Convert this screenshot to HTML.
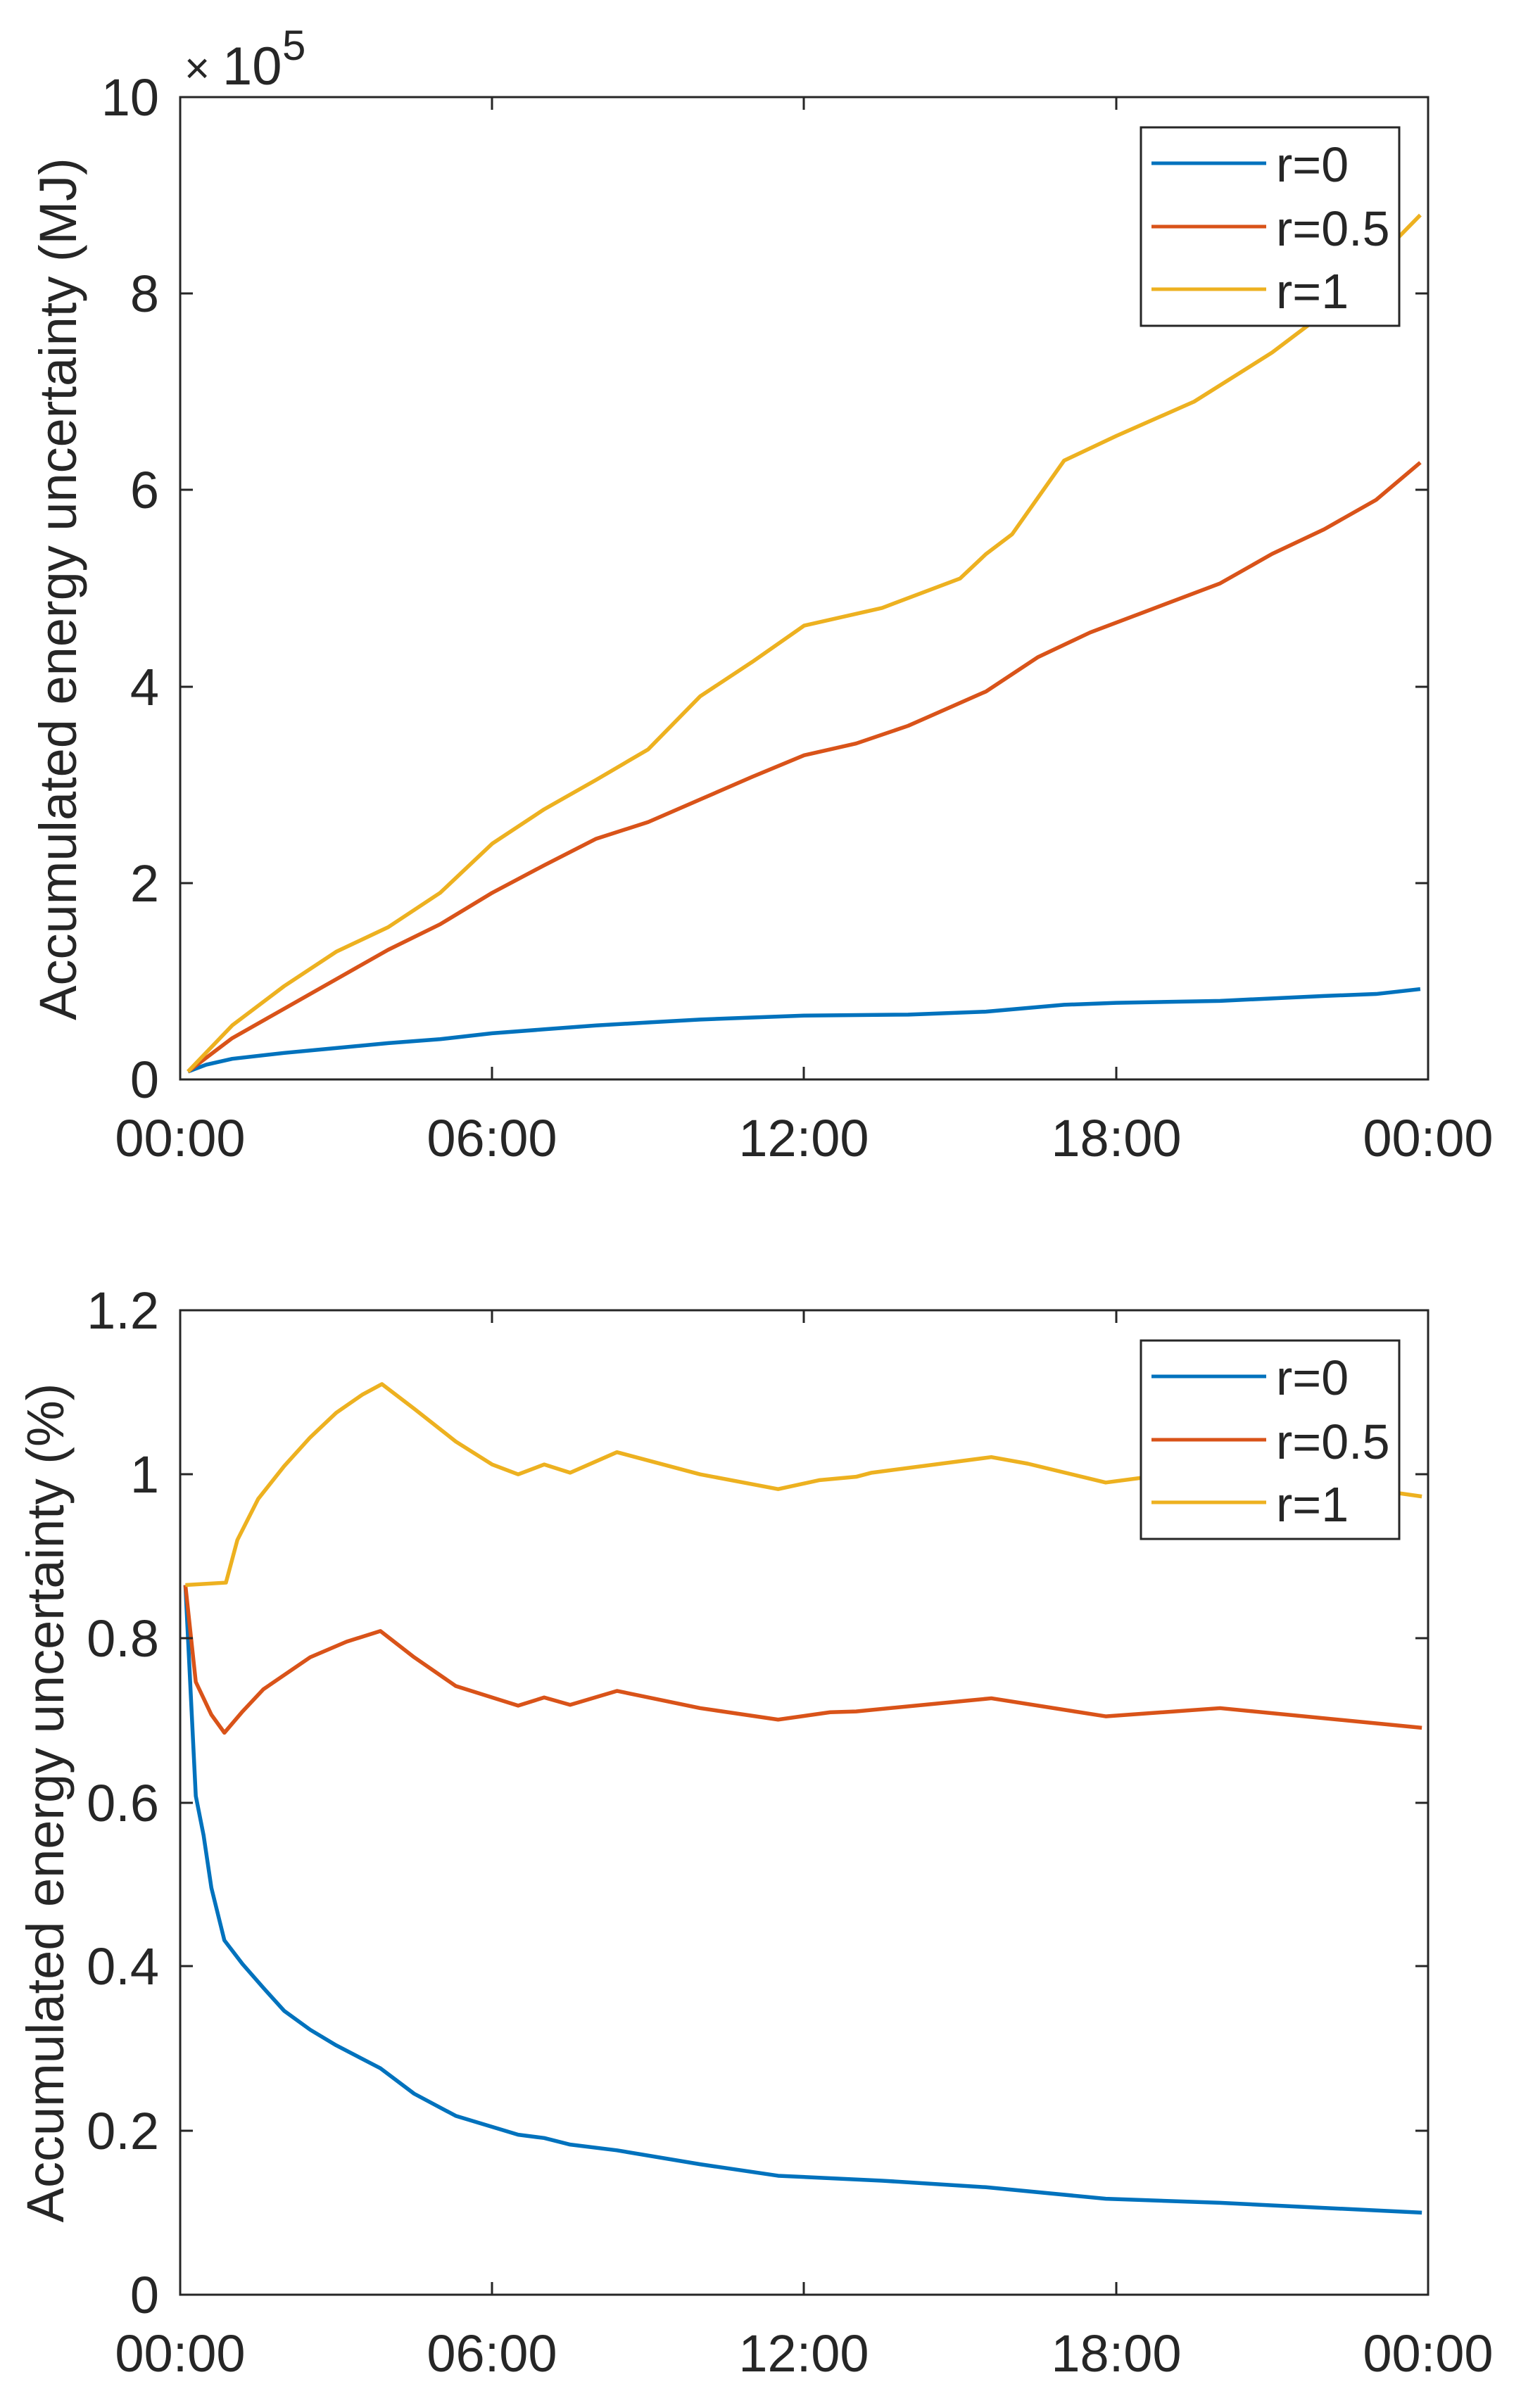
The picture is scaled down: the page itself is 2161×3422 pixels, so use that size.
<!DOCTYPE html>
<html><head><meta charset="utf-8"><style>
html,body{margin:0;padding:0;background:#fff;}
svg{display:block;}
text{font-family:"Liberation Sans",Arial,sans-serif;fill:#262626;}
.d{fill:none;stroke-width:5.5;vector-effect:non-scaling-stroke;stroke-linejoin:round;}
</style></head><body>
<svg width="2161" height="3422" viewBox="0 0 2161 3422" xmlns="http://www.w3.org/2000/svg">
<rect width="2161" height="3422" fill="#fff"/>

<!-- ===== TOP CHART ===== -->
<g transform="translate(256,1534) scale(73.875,-139.6)">
<polyline class="d" stroke="#0072BD" points="0.15,0.08 0.5,0.15 1,0.21 2,0.27 3,0.32 4,0.37 5,0.41 6,0.47 7,0.51 8,0.55 9,0.58 10,0.61 11,0.63 12,0.65 14,0.66 15.5,0.69 17,0.76 18,0.78 20,0.80 22,0.85 23,0.87 23.85,0.92"/>
<polyline class="d" stroke="#D95319" points="0.15,0.08 1,0.42 2,0.72 3,1.02 4,1.32 5,1.58 6,1.9 7,2.18 8,2.45 9,2.62 10,2.85 11,3.08 12,3.3 13,3.42 14,3.6 15.5,3.95 16.5,4.3 17.5,4.55 18.5,4.75 20,5.05 21,5.35 22,5.6 23,5.9 23.85,6.28"/>
<polyline class="d" stroke="#EDB120" points="0.15,0.08 1,0.55 2,0.95 3,1.3 4,1.55 5,1.9 6,2.4 7,2.75 8,3.05 9,3.36 10,3.9 11,4.25 12,4.62 13.5,4.8 15,5.1 15.5,5.35 16,5.55 17,6.3 18,6.55 19.5,6.9 21,7.4 22,7.8 23.85,8.8"/>
</g>
<rect x="256" y="138" width="1773" height="1396" fill="none" stroke="#262626" stroke-width="3"/>
<g stroke="#262626" stroke-width="3">
<line x1="256" y1="1255" x2="274" y2="1255"/><line x1="2029" y1="1255" x2="2011" y2="1255"/>
<line x1="256" y1="976" x2="274" y2="976"/><line x1="2029" y1="976" x2="2011" y2="976"/>
<line x1="256" y1="696" x2="274" y2="696"/><line x1="2029" y1="696" x2="2011" y2="696"/>
<line x1="256" y1="417" x2="274" y2="417"/><line x1="2029" y1="417" x2="2011" y2="417"/>
<line x1="699" y1="1534" x2="699" y2="1516"/><line x1="699" y1="138" x2="699" y2="156"/>
<line x1="1142" y1="1534" x2="1142" y2="1516"/><line x1="1142" y1="138" x2="1142" y2="156"/>
<line x1="1586" y1="1534" x2="1586" y2="1516"/><line x1="1586" y1="138" x2="1586" y2="156"/>
</g>
<g font-size="74" text-anchor="end">
<text x="226" y="1560">0</text>
<text x="226" y="1281">2</text>
<text x="226" y="1002">4</text>
<text x="226" y="722">6</text>
<text x="226" y="443">8</text>
<text x="226" y="164">10</text>
</g>
<text x="262" y="118" font-size="62">×</text>
<text x="316" y="120" font-size="76">10</text>
<text x="401" y="85" font-size="60">5</text>
<g font-size="74" text-anchor="middle">
<text x="256" y="1643">00:00</text>
<text x="699" y="1643">06:00</text>
<text x="1142" y="1643">12:00</text>
<text x="1586" y="1643">18:00</text>
<text x="2029" y="1643">00:00</text>
</g>
<text transform="translate(108,837) rotate(-90)" font-size="74" text-anchor="middle">Accumulated energy uncertainty (MJ)</text>
<rect x="1621" y="181" width="367" height="282" fill="#fff" stroke="#262626" stroke-width="3"/>
<line x1="1636" y1="232" x2="1799" y2="232" stroke="#0072BD" stroke-width="5"/>
<line x1="1636" y1="322" x2="1799" y2="322" stroke="#D95319" stroke-width="5"/>
<line x1="1636" y1="411" x2="1799" y2="411" stroke="#EDB120" stroke-width="5"/>
<g font-size="70">
<text x="1813" y="258">r=0</text>
<text x="1813" y="349">r=0.5</text>
<text x="1813" y="438">r=1</text>
</g>

<!-- ===== BOTTOM CHART ===== -->
<g transform="translate(256,3261) scale(73.875,-1165.83)">
<polyline class="d" stroke="#0072BD" points="0.1,0.865 0.3,0.608 0.45,0.56 0.6,0.496 0.85,0.432 1.2,0.403 1.6,0.374 2,0.346 2.5,0.323 3,0.304 3.85,0.276 4.5,0.245 5.3,0.218 6.5,0.195 7,0.191 7.5,0.183 8.4,0.176 10,0.159 11.5,0.145 13.5,0.139 15.5,0.131 17.8,0.117 20,0.112 23.88,0.1"/>
<polyline class="d" stroke="#D95319" points="0.1,0.865 0.3,0.747 0.6,0.707 0.85,0.685 1.2,0.711 1.6,0.738 2.5,0.777 3.2,0.796 3.85,0.809 4.5,0.777 5.3,0.742 6.5,0.718 7,0.728 7.5,0.719 8.4,0.736 10,0.715 11.5,0.701 12.5,0.71 13,0.711 15.6,0.727 17.8,0.705 20,0.715 23.88,0.691"/>
<polyline class="d" stroke="#EDB120" points="0.1,0.865 0.88,0.868 1.1,0.92 1.5,0.97 2,1.01 2.5,1.045 3,1.075 3.5,1.097 3.88,1.11 4.5,1.08 5.3,1.04 6,1.012 6.5,1.0 7,1.012 7.5,1.002 8.4,1.027 10,1.0 11.5,0.982 12.3,0.993 13,0.997 13.3,1.002 15.6,1.021 16.3,1.013 17.8,0.99 19,1.0 20,1.0 22,0.99 23.88,0.973"/>
</g>
<rect x="256" y="1862" width="1773" height="1399" fill="none" stroke="#262626" stroke-width="3"/>
<g stroke="#262626" stroke-width="3">
<line x1="256" y1="3028" x2="274" y2="3028"/><line x1="2029" y1="3028" x2="2011" y2="3028"/>
<line x1="256" y1="2794" x2="274" y2="2794"/><line x1="2029" y1="2794" x2="2011" y2="2794"/>
<line x1="256" y1="2562" x2="274" y2="2562"/><line x1="2029" y1="2562" x2="2011" y2="2562"/>
<line x1="256" y1="2328" x2="274" y2="2328"/><line x1="2029" y1="2328" x2="2011" y2="2328"/>
<line x1="256" y1="2095" x2="274" y2="2095"/><line x1="2029" y1="2095" x2="2011" y2="2095"/>
<line x1="699" y1="3261" x2="699" y2="3243"/><line x1="699" y1="1862" x2="699" y2="1880"/>
<line x1="1142" y1="3261" x2="1142" y2="3243"/><line x1="1142" y1="1862" x2="1142" y2="1880"/>
<line x1="1586" y1="3261" x2="1586" y2="3243"/><line x1="1586" y1="1862" x2="1586" y2="1880"/>
</g>
<g font-size="74" text-anchor="end">
<text x="226" y="3287">0</text>
<text x="226" y="3054">0.2</text>
<text x="226" y="2820">0.4</text>
<text x="226" y="2588">0.6</text>
<text x="226" y="2354">0.8</text>
<text x="226" y="2121">1</text>
<text x="226" y="1888">1.2</text>
</g>
<g font-size="74" text-anchor="middle">
<text x="256" y="3370">00:00</text>
<text x="699" y="3370">06:00</text>
<text x="1142" y="3370">12:00</text>
<text x="1586" y="3370">18:00</text>
<text x="2029" y="3370">00:00</text>
</g>
<text transform="translate(90,2562) rotate(-90)" font-size="74" text-anchor="middle">Accumulated energy uncertainty (%)</text>
<rect x="1621" y="1905" width="367" height="282" fill="#fff" stroke="#262626" stroke-width="3"/>
<line x1="1636" y1="1956" x2="1799" y2="1956" stroke="#0072BD" stroke-width="5"/>
<line x1="1636" y1="2046" x2="1799" y2="2046" stroke="#D95319" stroke-width="5"/>
<line x1="1636" y1="2135" x2="1799" y2="2135" stroke="#EDB120" stroke-width="5"/>
<g font-size="70">
<text x="1813" y="1982">r=0</text>
<text x="1813" y="2073">r=0.5</text>
<text x="1813" y="2162">r=1</text>
</g>
</svg>
</body></html>
